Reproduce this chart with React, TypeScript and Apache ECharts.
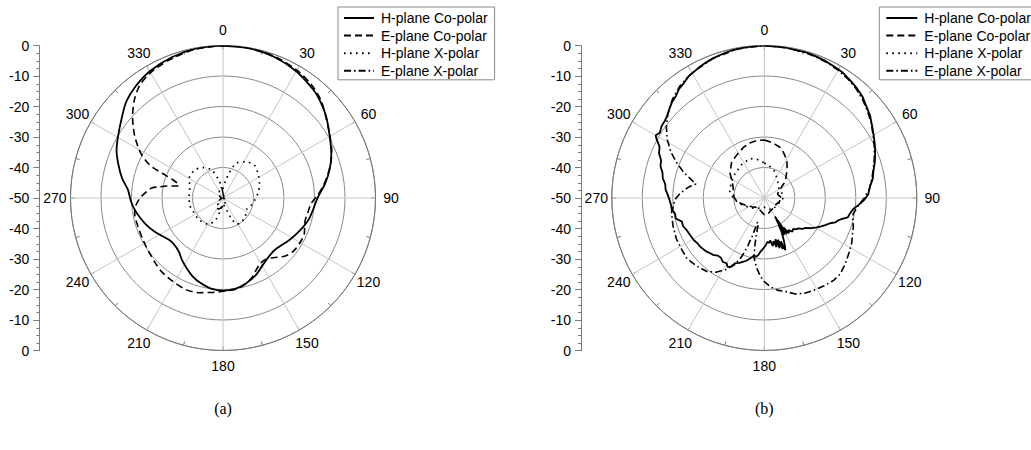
import React, { useEffect, useRef } from "react";
import * as echarts from "echarts";

// ---------- data: [angle (deg), level (dB)] ----------
const seriesNames = ["H-plane Co-polar", "E-plane Co-polar", "H-plane X-polar", "E-plane X-polar"];
const radialTicks = [-50, -40, -30, -20, -10, 0];
const angleTicks = [0, 30, 60, 90, 120, 150, 180, 210, 240, 270, 300, 330];

// (a) simulated
const aHCoPolar: [number, number][] = [
  [0, 0], [10, -0.2], [20, -0.8], [30, -2.0], [40, -3.8], [45, -5.0], [52, -7.0], [60, -9.6], [68, -11.7],
  [75, -13.8], [82, -16.2], [90, -19.0], [98, -20.3], [104, -21.0], [110, -22.1], [116, -23.2], [122, -24.2],
  [128, -25.2], [134, -25.9], [140, -25.8], [145, -25.2], [150, -24.3], [157, -22.5], [165, -21.0], [172, -20.0],
  [180, -19.6], [188, -20.1], [195, -21.2], [201, -22.4], [207, -24.0], [213, -25.5], [220, -27.3], [228, -27.9],
  [233, -27.5], [238, -26.5], [244, -25.0], [250, -23.5], [256, -22.2], [262, -20.9], [268, -19.8], [275, -18.7],
  [281, -16.3], [288, -13.9], [294, -11.8], [300, -10.2], [308, -7.8], [315, -5.2], [322, -3.5], [330, -2.0],
  [340, -0.9], [350, -0.2], [360, 0],
];
const aECoPolar: [number, number][] = [
  [0, 0], [10, -0.1], [20, -0.6], [30, -1.6], [38, -2.9], [45, -4.6], [51, -6.8], [57, -8.7], [62, -10.0],
  [66, -11.0], [71, -12.5], [76, -14.3], [82, -16.5], [88, -18.8], [93.5, -21.0], [100, -21.8], [107, -22.0],
  [113, -21.0], [120, -20.8], [127, -21.1], [133, -22.1], [140, -24.4], [145, -25.5], [150, -25.3], [155, -24.1],
  [160.5, -22.1], [166, -20.7], [172, -19.8], [180, -19.4], [186, -18.9], [194, -18.0], [202, -17.6], [211, -18.1],
  [219, -18.5], [225, -19.1], [233, -19.9], [242, -20.4], [252, -20.6], [260, -20.6], [265, -21.3], [270, -22.8],
  [274, -24.5], [278, -26.4], [280, -29.0], [282, -31.1], [284, -33.8], [286, -35.0], [288, -34.2], [290, -32.5],
  [292, -28.8], [293.5, -25.0], [295, -22.8], [298, -19.8], [301, -17.5], [306, -14.0], [312, -10.1], [318, -6.6],
  [323, -4.3], [328, -2.9], [333, -2.1], [340, -1.3], [349, -0.4], [360, 0],
];
const aHXPolar: [number, number][] = [
  [0, -47], [8, -44.5], [14, -41.5], [21, -37.8], [31, -36.2], [44, -35.1], [57, -36.2], [68, -37.1], [80, -38.2],
  [93, -39.5], [105, -40.5], [116, -41.4], [130, -40.5], [145, -40.0], [152, -40.4], [158, -43], [163, -45.9],
  [172, -47.5], [180, -48], [190, -46.5], [198, -42.7], [209, -40.2], [227, -39.4], [245, -39.3], [261, -38.8],
  [273, -38.9], [289, -38.5], [300, -37.2], [315, -37.0], [327, -38.1], [338, -40.1], [346, -43.7], [353, -46],
  [360, -47],
];
const aEXPolar: [number, number][] = [
  [0, -48.5], [30, -49.5], [60, -50], [90, -50], [120, -49.5], [150, -48.5], [180, -47.5], [195, -46.5],
  [205, -46], [215, -47], [235, -48.5], [260, -49.5], [290, -49], [320, -48], [340, -47], [350, -46.5], [360, -48.5],
];

// (b) measured
const bHCoPolar: [number, number][] = [
  [0, 0], [4, -0.2], [8, -0.1], [12, -0.4], [16, -0.3], [20, -0.6], [24, -0.8], [28, -1.2], [32, -1.5], [36, -2.2],
  [40, -2.9], [44, -3.7], [48, -5.0], [52, -6.0], [56, -7.4], [60, -8.6], [64, -9.7], [68, -10.8], [72, -11.9],
  [76, -13.1], [80, -13.9], [84, -15.2], [88, -15.9], [91, -17.2], [94, -18.9], [97, -20.6], [100, -21.4],
  [103, -21.9], [105, -23.6], [107, -24.8], [109, -25.4], [111, -26.9], [114, -28.1], [117, -29.4], [120, -30.6],
  [123, -31.8], [126, -33.3], [129, -33.9], [132, -35.1], [135, -35.4], [137, -36.2], [140, -35.6], [143, -36.8],
  [145, -35.9], [147, -38.5], [148, -36.0], [149, -41.5], [149.5, -36.5], [150, -43.0], [150.5, -37.0], [151, -42.0],
  [151.5, -36.2], [152, -40.0], [153, -37.5], [155, -35.0], [157, -32.5], [158, -31.6], [159, -34.8], [160, -32.2],
  [162, -35.6], [163, -32.8], [165, -36.0], [166, -33.4], [168, -35.5], [170, -34.0], [172, -36.0], [174, -35.2],
  [176, -35.6], [178, -34.6], [181, -33.5], [184, -32.4], [186, -31.2], [188, -30.5], [190, -30.9], [193, -29.7],
  [196, -28.6], [198, -28.1], [201, -27.2], [204, -26.6], [206, -25.0], [208, -24.4], [210, -25.3], [213, -25.0],
  [216, -25.8], [219, -25.7], [222, -24.9], [224, -24.7], [227, -24.2], [230, -23.9], [233, -23.6], [236, -23.5],
  [239, -23.1], [242, -22.9], [245, -22.7], [248, -22.4], [251, -21.8], [254, -21.9], [257, -20.2], [260, -20.3],
  [263, -19.4], [266, -19.3], [269, -18.9], [272, -18.3], [275, -17.5], [278, -17.2], [281, -16.1], [284, -15.6],
  [287, -14.4], [290, -14.0], [293, -12.5], [296, -11.8], [299, -9.5], [300, -8.9], [302, -9.6], [305, -8.9],
  [308, -8.7], [310, -8.3], [313, -7.4], [316, -6.4], [319, -5.8], [322, -4.6], [325, -4.0], [328, -3.0],
  [331, -2.6], [334, -2.0], [337, -1.6], [340, -1.2], [344, -0.8], [348, -0.4], [352, -0.3], [356, -0.1], [360, 0],
];
const bECoPolar: [number, number][] = [
  [0, -31.0], [6, -31.5], [11, -32.0], [17, -32.6], [22, -33.6], [27, -34.8], [32, -36.0], [37, -37.6], [42, -39.1],
  [47, -40.3], [52, -41.4], [57, -43.2], [65, -44.8], [75, -45.5], [90, -44.2], [105, -45.0], [125, -45.8],
  [145, -45.5], [165, -44.8], [180, -44.5], [195, -45.6], [215, -46.2], [235, -45.0], [250, -43.2], [262, -41.0],
  [272, -40.0], [284, -39.6], [295, -38.5], [306, -36.1], [318, -34.0], [330, -33.0], [338, -32.0], [346, -31.3],
  [353, -31.0], [360, -31.0],
];
const bHXPolar: [number, number][] = [
  [0, -38.5], [10, -39.5], [20, -40.5], [30, -42], [45, -43.5], [60, -44.5], [75, -44], [90, -43.8], [105, -44.5],
  [120, -45.5], [140, -45.2], [160, -46], [180, -47], [200, -46.5], [220, -45.5], [240, -44], [255, -42], [268, -40],
  [280, -38.5], [295, -38], [310, -37.5], [325, -36.8], [340, -36.2], [350, -37.2], [360, -38.5],
];
const bEXPolar: [number, number][] = [
  [0, 0], [5, -0.2], [10, -0.3], [15, -0.5], [20, -0.7], [25, -1.1], [30, -1.6], [35, -2.3], [40, -3.2], [45, -4.4],
  [50, -5.8], [55, -7.2], [60, -8.8], [65, -10.2], [70, -11.6], [75, -13.0], [80, -14.2], [85, -15.4], [90, -17.2],
  [95, -19.2], [100, -20.4], [104, -20.1], [108, -19.3], [112, -18.8], [117, -17.8], [123, -16.9], [129, -15.8],
  [135, -14.8], [140, -14.7], [146, -15.2], [152, -15.7], [157, -16.1], [162, -16.9], [167, -18.5], [172, -19.5],
  [176, -20.8], [180, -22.6], [183, -24.4], [186, -26.8], [188, -28.6], [190, -30.4], [191.5, -35.0], [193, -40.5],
  [195.5, -41.8], [197.5, -37.0], [199, -33.4], [201, -29.5], [204, -26.0], [208, -23.5], [213, -21.0], [218, -19.4],
  [225, -18.5], [232, -17.8], [238, -18.1], [245, -18.2], [253, -18.7], [261, -19.2], [269, -20.7], [273, -22.3],
  [278, -24.8], [281.6, -27.1], [284, -25.4], [288, -22.0], [292, -19.0], [296, -16.0], [301, -12.9], [306, -10.3],
  [311, -8.1], [317, -5.8], [323, -4.0], [330, -2.6], [340, -1.2], [350, -0.3], [360, 0],
];

const captions = ["(a)", "(b)"];

// ---------- styles ----------
const FONT = "'Liberation Sans', Arial, sans-serif";
const dashStyles: (string | number[])[] = ["solid", [7, 4], [1.6, 4.4], [7, 3, 1.6, 3]];
const lineWidths = [1.8, 1.6, 1.7, 1.6];
const polarCenters = [[223, 198], [764.3, 198]];
const R = 152.5;
const LABEL_MARGIN = -8; // anchor radius offset used by ECharts
const LABEL_CENTER_R = 168; // desired distance of label centres from the pole
const DIGIT_W = 7.78;
const LINE_H = 14;

function toData(pts: [number, number][]) {
  return pts.map(([a, d]) => [d, a]);
}

// padding that moves each angle label (placed by ECharts' own alignment rule) so its centre sits on a circle
function labelRich() {
  const rich: Record<string, any> = {};
  const Ra = R + LABEL_MARGIN;
  angleTicks.forEach((t) => {
    const rad = (t * Math.PI) / 180;
    const s = Math.sin(rad);
    const c = -Math.cos(rad);
    const px = Ra * s, py = Ra * c;
    const tx = LABEL_CENTER_R * s, ty = LABEL_CENTER_R * c;
    const w = String(t).length * DIGIT_W, h = LINE_H;
    const hAlign = Math.abs(px) / R < 0.3 ? "center" : px > 0 ? "left" : "right";
    const vAlign = Math.abs(py) / R < 0.3 ? "middle" : py > 0 ? "top" : "bottom";
    let pl = 0, pr = 0, pt = 0, pb = 0;
    if (hAlign === "left") pl = tx - px - w / 2;
    if (hAlign === "right") pr = px - w / 2 - tx;
    // text is centred vertically inside its (padded) line box, so vertical padding counts half
    if (vAlign === "top") pt = 2 * (ty - py - h / 2);
    if (vAlign === "bottom") pb = 2 * (py - h / 2 - ty);
    rich["l" + t] = {
      padding: [Math.max(0, pt), Math.max(0, pr), Math.max(0, pb), Math.max(0, pl)],
      fontSize: 14,
      fontFamily: FONT,
      color: "#000",
      lineHeight: LINE_H,
    };
  });
  return rich;
}

function buildOption() {
  const rich = labelRich();
  const polar = polarCenters.map((c) => ({ center: c, radius: R }));
  const angleAxis = polarCenters.map((_, i) => ({
    polarIndex: i,
    type: "value",
    min: 0,
    max: 360,
    interval: 30,
    startAngle: 90,
    clockwise: true,
    axisLine: { show: true, lineStyle: { color: "#7a7a7a", width: 1 } },
    axisTick: { show: true, inside: true, length: 4, lineStyle: { color: "#7a7a7a" } },
    minorTick: { show: true, splitNumber: 2, length: 4, lineStyle: { color: "#7a7a7a" } },
    splitLine: { show: true, lineStyle: { color: "#c4c4c4", width: 1 } },
    axisLabel: {
      show: true,
      margin: LABEL_MARGIN,
      color: "#000",
      fontSize: 14,
      fontFamily: FONT,
      lineHeight: LINE_H,
      rich,
      formatter: (v: number) => (angleTicks.includes(v) ? `{l${v}|${v}}` : ""),
    },
  }));
  const radiusAxis = polarCenters.map((_, i) => ({
    polarIndex: i,
    type: "value",
    min: radialTicks[0],
    max: radialTicks[radialTicks.length - 1],
    interval: 10,
    axisLine: { show: false },
    axisTick: { show: false },
    axisLabel: { show: false },
    splitLine: { show: true, lineStyle: { color: "#8a8a8a", width: 1 } },
  }));
  const grid = [
    { left: 39.3, top: 45.7, width: 1, height: 305 },
    { left: 581, top: 45.7, width: 1, height: 305 },
  ];
  const xAxis = grid.map((_, i) => ({ gridIndex: i, type: "value", show: false, min: 0, max: 1 }));
  const yAxis = grid.map((_, i) => ({
    gridIndex: i,
    type: "value",
    min: -50,
    max: 50,
    interval: 10,
    axisLine: { show: true, lineStyle: { color: "#7a7a7a" } },
    axisTick: { show: true, length: 6, lineStyle: { color: "#7a7a7a" } },
    minorTick: { show: true, splitNumber: 4, length: 3, lineStyle: { color: "#7a7a7a" } },
    splitLine: { show: false },
    axisLabel: {
      margin: 10,
      color: "#000",
      fontSize: 14,
      fontFamily: FONT,
      formatter: (v: number) => String(Math.abs(v) - 50),
    },
  }));

  const groups = [
    [aHCoPolar, aECoPolar, aHXPolar, aEXPolar],
    [bHCoPolar, bECoPolar, bHXPolar, bEXPolar],
  ];
  const series: any[] = [];
  groups.forEach((g, pi) => {
    g.forEach((pts, si) => {
      series.push({
        name: seriesNames[si],
        type: "line",
        coordinateSystem: "polar",
        polarIndex: pi,
        symbol: "none",
        smooth: pi === 0 ? 0.3 : false,
        lineStyle: { color: "#000", width: lineWidths[si], type: dashStyles[si] },
        itemStyle: { color: "#000" },
        data: toData(pts),
      });
    });
  });

  const legendBase = {
    orient: "vertical",
    top: 7,
    itemWidth: 30,
    itemHeight: 14,
    itemGap: 3.6,
    borderColor: "#8a8a8a",
    borderWidth: 1,
    data: seriesNames,
    itemStyle: { opacity: 0, borderWidth: 0, color: "transparent", borderColor: "transparent" },
    textStyle: { color: "#000", fontSize: 14, fontFamily: FONT, lineHeight: 14, padding: [0, 0, 0, 2] },
  };
  const legend = [
    { ...legendBase, left: 338, padding: [4, 7, 2, 5] },
    { ...legendBase, left: 879.3, itemWidth: 31, padding: [4, 7, 2, 6] },
  ];

  const graphic = captions.map((t, i) => ({
    type: "text",
    x: polarCenters[i][0],
    y: 408,
    style: {
      text: t,
      fill: "#000",
      fontSize: 16,
      fontFamily: "'Liberation Serif', 'Times New Roman', serif",
      align: "center",
      verticalAlign: "middle",
      textAlign: "center",
      textVerticalAlign: "middle",
    },
  }));

  return { animation: false, polar, angleAxis, radiusAxis, grid, xAxis, yAxis, series, legend, graphic };
}

export default function App() {
  const ref = useRef<HTMLDivElement>(null);
  useEffect(() => {
    if (!ref.current) return;
    const chart = echarts.init(ref.current, undefined, { renderer: "svg" });
    chart.setOption(buildOption() as any);
    return () => chart.dispose();
  }, []);
  return (
    <div
      ref={ref}
      style={{ position: "absolute", left: 0, top: 0, width: 1031, height: 450, background: "#fff" }}
    />
  );
}
